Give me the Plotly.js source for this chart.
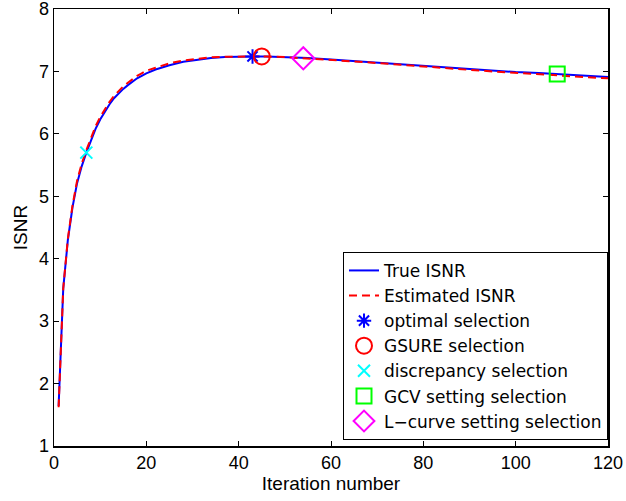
<!DOCTYPE html>
<html>
<head>
<meta charset="utf-8">
<script src="https://cdn.plot.ly/plotly-3.0.1.min.js"></script>
<style>html,body{margin:0;padding:0;background:#fff;} #chart{width:626px;height:501px;}</style>
</head>
<body>
<div id="chart"></div>
<script>
var iterations = [1,2,3,4,5,6,7,8,9,10,11,12,13,14,15,16,17,18,19,20,22,25,28,31,34,37,40,43,46,50,55,60,65,70,75,80,85,90,95,100,105,110,115,120];
var trueISNR = [1.64,3.52,4.30,4.82,5.21,5.48,5.70,5.90,6.08,6.23,6.36,6.47,6.57,6.65,6.72,6.78,6.84,6.89,6.93,6.97,7.03,7.10,7.155,7.19,7.215,7.23,7.238,7.24,7.24,7.23,7.215,7.19,7.165,7.14,7.11,7.08,7.06,7.035,7.01,6.99,6.975,6.955,6.935,6.91];
var estISNR = [1.62,3.52,4.32,4.85,5.25,5.52,5.74,5.94,6.12,6.27,6.40,6.51,6.61,6.69,6.76,6.82,6.88,6.93,6.97,7.01,7.06,7.13,7.175,7.205,7.225,7.235,7.24,7.245,7.24,7.23,7.21,7.185,7.16,7.135,7.105,7.08,7.05,7.025,7.0,6.975,6.955,6.935,6.91,6.89];

var optimalSel = {x: [43], y: [7.24]};
var gsureSel = {x: [45], y: [7.24]};
var discrepancySel = {x: [7], y: [5.70]};
var gcvSel = {x: [109], y: [6.96]};
var lcurveSel = {x: [54], y: [7.21]};

var seriesNames = ['True ISNR','Estimated ISNR','optimal selection','GSURE selection','discrepancy selection','GCV setting selection','L\u2212curve setting selection'];

var traces = [
  {x: iterations, y: trueISNR, type: 'scatter', mode: 'lines', name: seriesNames[0],
   line: {color: '#0000ff', width: 2}},
  {x: iterations, y: estISNR, type: 'scatter', mode: 'lines', name: seriesNames[1],
   line: {color: '#ff0000', width: 2, dash: '8px,5px'}},
  {x: optimalSel.x, y: optimalSel.y, type: 'scatter', mode: 'markers', name: seriesNames[2],
   marker: {symbol: 'asterisk-open', size: 12, color: '#0000ff', line: {color: '#0000ff', width: 2}}},
  {x: gsureSel.x, y: gsureSel.y, type: 'scatter', mode: 'markers', name: seriesNames[3],
   marker: {symbol: 'circle-open', size: 16, color: '#ff0000', line: {color: '#ff0000', width: 2}}},
  {x: discrepancySel.x, y: discrepancySel.y, type: 'scatter', mode: 'markers', name: seriesNames[4],
   marker: {symbol: 'x-thin-open', size: 12, color: '#00ffff', line: {color: '#00ffff', width: 2}}},
  {x: gcvSel.x, y: gcvSel.y, type: 'scatter', mode: 'markers', name: seriesNames[5],
   marker: {symbol: 'square-open', size: 15, color: '#00ff00', line: {color: '#00ff00', width: 2}}},
  {x: lcurveSel.x, y: lcurveSel.y, type: 'scatter', mode: 'markers', name: seriesNames[6],
   marker: {symbol: 'diamond-open', size: 17, color: '#ff00ff', line: {color: '#ff00ff', width: 2}}}
];

var fontFam = 'Liberation Sans, Arial, Helvetica, sans-serif';
var legendFam = 'DejaVu Sans, Liberation Sans, Arial, sans-serif';
var layout = {
  width: 626, height: 501,
  margin: {l: 53.5, r: 17.7, t: 9.3, b: 55, pad: 0},
  paper_bgcolor: '#ffffff', plot_bgcolor: '#ffffff',
  font: {family: fontFam, size: 19, color: '#000000'},
  showlegend: true,
  xaxis: {
    range: [0, 120], tickvals: [0,20,40,60,80,100,120],
    showgrid: false, zeroline: false, showline: true, linecolor: '#000', linewidth: 1.5,
    mirror: 'ticks', ticks: 'inside', ticklen: 5, tickwidth: 1, tickcolor: '#000',
    ticklabeloverflow: 'allow',
    tickfont: {size: 18, family: fontFam},
    title: {text: 'Iteration number', font: {size: 19, family: fontFam}, standoff: 4}
  },
  yaxis: {
    range: [1, 8], tickvals: [1,2,3,4,5,6,7,8],
    showgrid: false, zeroline: false, showline: true, linecolor: '#000', linewidth: 1.5,
    mirror: 'ticks', ticks: 'inside', ticklen: 5, tickwidth: 1, tickcolor: '#000',
    ticklabeloverflow: 'allow',
    tickfont: {size: 18, family: fontFam},
    title: {text: 'ISNR', font: {size: 19, family: fontFam}, standoff: 6}
  },
  legend: {
    x: 1, xanchor: 'right', y: 0.014, yanchor: 'bottom',
    bgcolor: '#ffffff', bordercolor: '#000000', borderwidth: 1,
    font: {size: 17, family: legendFam}, tracegroupgap: 0
  }
};

Plotly.newPlot('chart', traces, layout, {displayModeBar: false, staticPlot: true});
</script>
</body>
</html>
